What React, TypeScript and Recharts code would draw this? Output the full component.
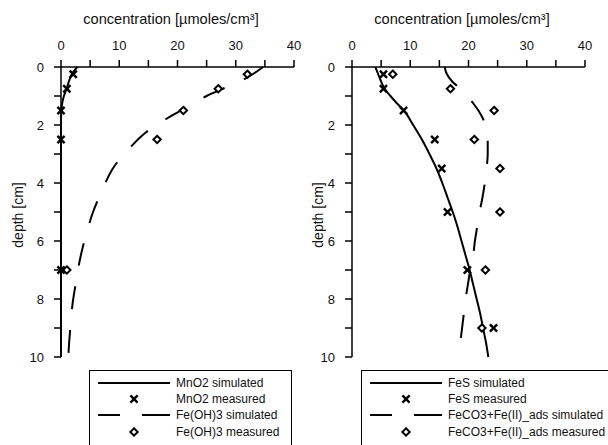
import React from 'react';
import { ComposedChart, Scatter, XAxis, YAxis } from 'recharts';

const FONT = '"Liberation Sans", Arial, Helvetica, sans-serif';

// axis ticks
const concTicks = [0, 5, 10, 15, 20, 25, 30, 35, 40];
const concLabels = [0, 10, 20, 30, 40];
const depthTicks = [0, 1, 2, 3, 4, 5, 6, 7, 8, 9, 10];
const depthLabels = [0, 2, 4, 6, 8, 10];

// ---- left panel ----
const mno2SimDepth = [0, 0.25, 0.5, 0.75, 1.0, 1.25, 1.5, 2, 4, 6, 8, 10];
const mno2SimConc = [2.8, 1.85, 1.35, 0.95, 0.5, 0.2, 0.05, 0, 0, 0, 0, 0];

const feoh3SimDepth = [0, 0.25, 0.5, 0.75, 1.0, 1.25, 1.5, 1.75, 2.0, 2.25, 2.5, 2.75, 3.0, 3.5, 4.0, 4.5, 5.0, 5.5, 6.0, 6.5, 7.0, 7.5, 8.0, 8.5, 9.0, 9.5, 10];
const feoh3SimConc = [34.7, 32.9, 30.7, 27.8, 25.0, 22.8, 20.6, 18.4, 16.4, 14.6, 13.2, 12.0, 10.8, 8.9, 7.6, 6.5, 5.5, 4.7, 4.0, 3.4, 2.9, 2.5, 2.1, 1.8, 1.6, 1.4, 1.25];

const leftMeasDepth = [0.25, 0.75, 1.5, 2.5, 7];
const mno2Meas = [2.1, 1.0, 0, 0, 0];
const feoh3Meas = [32.0, 27.0, 21.0, 16.5, 1.0];

// ---- right panel ----
const fesSimDepth = [0, 0.25, 0.5, 0.75, 1.0, 1.25, 1.5, 2.0, 2.5, 3.0, 3.5, 4.0, 4.5, 5.0, 5.5, 6.0, 6.5, 7.0, 7.5, 8.0, 8.5, 9.0, 9.5, 10];
const fesSimConc = [4.0, 4.5, 5.0, 5.6, 6.6, 7.7, 8.9, 10.5, 12.0, 13.3, 14.5, 15.5, 16.4, 17.3, 18.1, 18.8, 19.5, 20.2, 20.8, 21.4, 22.0, 22.5, 23.0, 23.4];

const feco3SimDepth = [0, 0.25, 0.5, 0.75, 1.0, 1.25, 1.5, 1.75, 2.0, 2.5, 3.0, 3.5, 4.0, 4.5, 5.0, 5.5, 6.0, 6.5, 7.0, 7.5, 8.0, 8.5, 9.0, 9.5, 10];
const feco3SimConc = [15.9, 16.3, 17.2, 18.6, 19.8, 20.8, 21.7, 22.4, 22.9, 23.3, 23.3, 23.1, 22.8, 22.4, 21.9, 21.5, 21.1, 20.8, 20.3, 19.9, 19.5, 19.2, 18.9, 18.6, 18.4];

const rightMeasDepth = [0.25, 0.75, 1.5, 2.5, 3.5, 5, 7, 9];
const fesMeas = [5.4, 5.4, 8.85, 14.2, 15.4, 16.4, 19.8, 24.3];
const feco3Meas = [7.0, 16.9, 24.4, 21.0, 25.4, 25.4, 22.9, 22.3];

const pts = (depths: number[], conc: number[]) =>
  depths.map((d, i) => ({ conc: conc[i], depth: d }));

const XTick = (props: any) => {
  const { x, y, payload } = props;
  if (!concLabels.includes(payload.value)) return <g />;
  return (
    <text x={x} y={y} textAnchor="middle" fontSize={13} fontFamily={FONT} fill="#111">
      {payload.value}
    </text>
  );
};

const YTick = (props: any) => {
  const { x, y, payload } = props;
  if (!depthLabels.includes(payload.value)) return <g />;
  return (
    <text x={x} y={y} dy="0.36em" textAnchor="end" fontSize={13} fontFamily={FONT} fill="#111">
      {payload.value}
    </text>
  );
};

const Cross = (props: any) => {
  const { cx, cy } = props;
  const r = 3.6;
  return (
    <g stroke="#000" strokeWidth={2.4}>
      <line x1={cx - r} y1={cy - r} x2={cx + r} y2={cy + r} />
      <line x1={cx - r} y1={cy + r} x2={cx + r} y2={cy - r} />
    </g>
  );
};

const Diamond = (props: any) => {
  const { cx, cy } = props;
  const r = 3.7;
  return (
    <polygon
      points={`${cx},${cy - r} ${cx + r},${cy} ${cx},${cy + r} ${cx - r},${cy}`}
      fill="#fff"
      stroke="#000"
      strokeWidth={2}
    />
  );
};

const Empty = () => <g />;

const DASH = '23 21';

type PanelProps = {
  solid: { conc: number; depth: number }[];
  dashed: { conc: number; depth: number }[];
  crosses: { conc: number; depth: number }[];
  diamonds: { conc: number; depth: number }[];
};

const Panel = ({ solid, dashed, crosses, diamonds }: PanelProps) => (
  <ComposedChart width={304} height={375} margin={{ top: 37, right: 10, bottom: 18, left: 21 }}>
    <XAxis
      type="number"
      dataKey="conc"
      orientation="top"
      domain={[0, 40]}
      ticks={concTicks}
      interval={0}
      height={30}
      tickSize={7}
      tickMargin={10}
      tick={<XTick />}
      axisLine={{ stroke: '#000', strokeWidth: 1.5 }}
      tickLine={{ stroke: '#000', strokeWidth: 1.5 }}
    />
    <YAxis
      type="number"
      dataKey="depth"
      reversed
      domain={[0, 10]}
      ticks={depthTicks}
      interval={0}
      width={40}
      tickSize={7}
      tickMargin={10}
      tick={<YTick />}
      axisLine={{ stroke: '#000', strokeWidth: 1.5 }}
      tickLine={{ stroke: '#000', strokeWidth: 1.5 }}
    />
    <Scatter
      data={solid}
      fill="#000"
      line={{ stroke: '#000', strokeWidth: 2 }}
      lineJointType="monotoneY"
      shape={<Empty />}
      isAnimationActive={false}
    />
    <Scatter
      data={dashed}
      fill="#000"
      line={{ stroke: '#000', strokeWidth: 2, strokeDasharray: DASH }}
      lineJointType="monotoneY"
      shape={<Empty />}
      isAnimationActive={false}
    />
    <Scatter data={crosses} fill="#000" shape={<Cross />} isAnimationActive={false} />
    <Scatter data={diamonds} fill="#000" shape={<Diamond />} isAnimationActive={false} />
  </ComposedChart>
);

const Legend = ({ left, width, labels }: { left: number; width: number; labels: string[] }) => {
  const lx1 = left + 9;
  const lx2 = left + 81;
  const tx = left + 87;
  const mid = (lx1 + lx2) / 2;
  const rows = [383, 399, 415, 432];
  return (
    <g>
      <rect x={left + 0.5} y={370.5} width={width} height={120} fill="#fff" stroke="#000" strokeWidth={1} />
      <line x1={lx1} y1={rows[0]} x2={lx2} y2={rows[0]} stroke="#000" strokeWidth={2} />
      <Cross cx={mid} cy={rows[1]} />
      <line x1={lx1} y1={rows[2]} x2={lx1 + 22} y2={rows[2]} stroke="#000" strokeWidth={2} />
      <line x1={lx1 + 44} y1={rows[2]} x2={lx2} y2={rows[2]} stroke="#000" strokeWidth={2} />
      <Diamond cx={mid} cy={rows[3]} />
      {labels.map((t, i) => (
        <text key={t} x={tx} y={rows[i] + 4.3} fontSize={12} fontFamily={FONT} fill="#111">
          {t}
        </text>
      ))}
    </g>
  );
};

const leftLabels = ['MnO2 simulated', 'MnO2 measured', 'Fe(OH)3 simulated', 'Fe(OH)3 measured'];
const rightLabels = ['FeS simulated', 'FeS measured', 'FeCO3+Fe(II)_ads simulated', 'FeCO3+Fe(II)_ads measured'];

export default function App() {
  return (
    <div style={{ position: 'absolute', left: 0, top: 0, width: 608, height: 445, background: '#fff', overflow: 'hidden', fontFamily: FONT }}>
      <div style={{ position: 'absolute', left: 0, top: 0 }}>
        <Panel
          solid={pts(mno2SimDepth, mno2SimConc)}
          dashed={pts(feoh3SimDepth, feoh3SimConc)}
          crosses={pts(leftMeasDepth, mno2Meas)}
          diamonds={pts(leftMeasDepth, feoh3Meas)}
        />
      </div>
      <div style={{ position: 'absolute', left: 291, top: 0 }}>
        <Panel
          solid={pts(fesSimDepth, fesSimConc)}
          dashed={pts(feco3SimDepth, feco3SimConc)}
          crosses={pts(rightMeasDepth, fesMeas)}
          diamonds={pts(rightMeasDepth, feco3Meas)}
        />
      </div>
      <svg width={608} height={445} style={{ position: 'absolute', left: 0, top: 0 }}>
        <text x={171} y={23.5} textAnchor="middle" fontSize={14.6} fontFamily={FONT} fill="#111">
          concentration [µmoles/cm³]
        </text>
        <text x={462} y={23.5} textAnchor="middle" fontSize={14.6} fontFamily={FONT} fill="#111">
          concentration [µmoles/cm³]
        </text>
        <text x={18.5} y={215} transform="rotate(-90 18.5 215)" textAnchor="middle" dy="0.35em" fontSize={14} fontFamily={FONT} fill="#111">
          depth [cm]
        </text>
        <text x={318.5} y={215} transform="rotate(-90 318.5 215)" textAnchor="middle" dy="0.35em" fontSize={14} fontFamily={FONT} fill="#111">
          depth [cm]
        </text>
        <Legend left={89} width={202} labels={leftLabels} />
        <Legend left={361} width={260} labels={rightLabels} />
      </svg>
    </div>
  );
}
